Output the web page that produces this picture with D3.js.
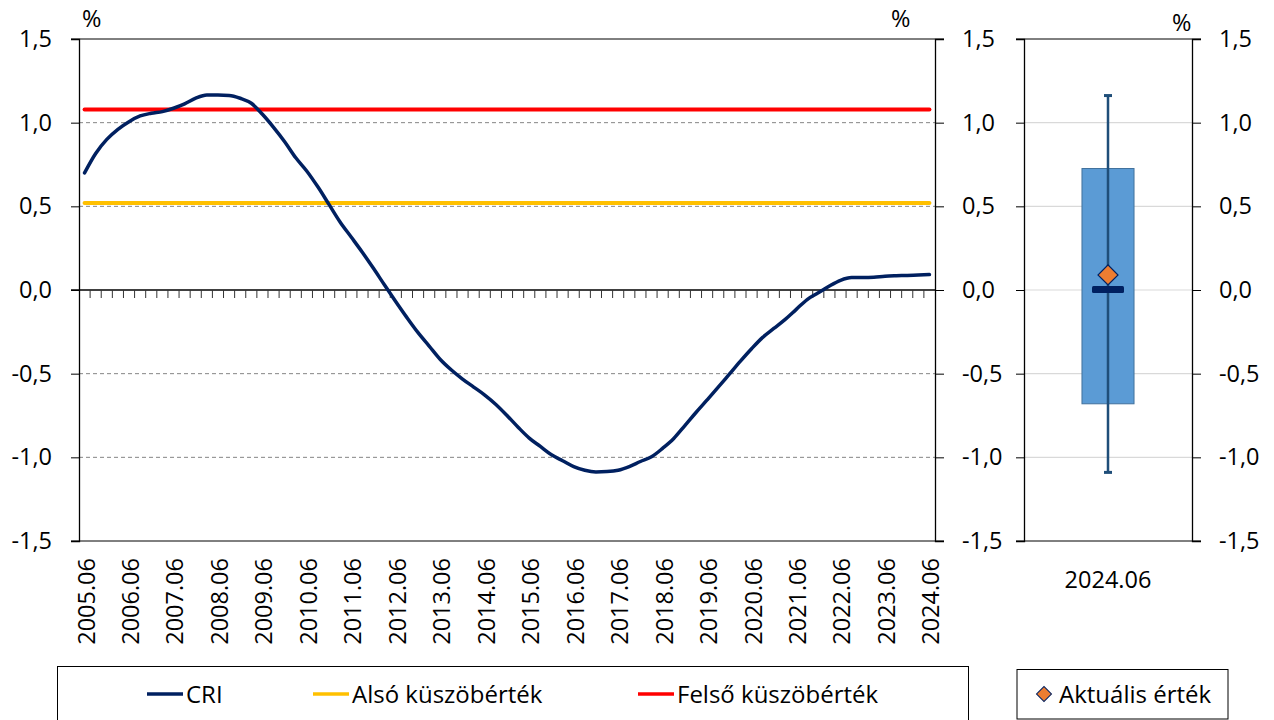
<!DOCTYPE html>
<html>
<head>
    <style>
        body { margin: 0; background: #fff; }
        svg text { font-family: "Open Sans", sans-serif; fill: #000; }
    </style>
</head>
<body>
    <svg width="1274" height="720"></svg>

    <script src="https://d3js.org/d3.v7.min.js"></script>
    <script>
        // quarterly observations, 2005.06 .. 2024.06
        const years = d3.range(2005, 2025);
        const months = ["03", "06", "09", "12"];
        const quarters = years.flatMap(y => months.map(m => `${y}.${m}`))
            .filter(q => q >= "2005.06" && q <= "2024.06");
        const tickLabels = years.map(y => `${y}.06`);

        const cri = [
            0.70, 0.816, 0.90, 0.96, 1.006, 1.04, 1.056, 1.066, 1.086, 1.112,
            1.146, 1.165, 1.165, 1.163, 1.146, 1.116, 1.05, 0.972, 0.886, 0.79,
            0.71, 0.615, 0.51, 0.405, 0.315, 0.224, 0.128, 0.028, -0.07, -0.165,
            -0.255, -0.335, -0.415, -0.478, -0.532, -0.58, -0.628, -0.684, -0.75, -0.82,
            -0.885, -0.935, -0.985, -1.02, -1.055, -1.077, -1.087, -1.085, -1.077, -1.055,
            -1.025, -0.997, -0.946, -0.887, -0.81, -0.732, -0.657, -0.581, -0.503, -0.425,
            -0.351, -0.283, -0.23, -0.177, -0.117, -0.057, -0.017, 0.024, 0.058, 0.074,
            0.074, 0.076, 0.082, 0.085, 0.087, 0.09, 0.092
        ];
        const lowerThreshold = 0.52;   // Alsó küszöbérték
        const upperThreshold = 1.078;  // Felső küszöbérték

        // distribution panel
        const boxCategory = "2024.06";
        const boxStats = { min: -1.09, q1: -0.68, median: 0.0, q3: 0.726, max: 1.162 };
        const currentValue = 0.09;     // Aktuális érték

        const yTicks = [1.5, 1.0, 0.5, 0.0, -0.5, -1.0, -1.5];
        const fmt = v => d3.format(".1f")(v).replace(".", ",").replace("−", "-");
        const FS = 23.5;

        const svg = d3.select("svg");
        const plotTop = 39, plotBottom = 541;
        const y = d3.scaleLinear().domain([-1.5, 1.5]).range([plotBottom, plotTop]);

        // ---------- left panel ----------
        const L = { left: 79, right: 935 };
        const x = d3.scaleBand().domain(quarters).range([L.left, L.right]).padding(0);
        const cx = d => x(d) + x.bandwidth() / 2;

        svg.append("g").selectAll("line")
            .data(yTicks.filter(v => Math.abs(v) !== 1.5 && v !== 0))
            .join("line")
            .attr("x1", L.left).attr("x2", L.right)
            .attr("y1", d => y(d)).attr("y2", d => y(d))
            .attr("stroke", "#858585").attr("stroke-width", 1)
            .attr("stroke-dasharray", "4,3");

        // frame lines top/bottom
        [1.5, -1.5].forEach(v => {
            svg.append("line").attr("x1", 71).attr("x2", 944)
                .attr("y1", y(v)).attr("y2", y(v))
                .attr("stroke", "#000").attr("stroke-width", 1);
        });

        // left and right axes
        const axL = svg.append("g").attr("transform", `translate(${L.left},0)`)
            .call(d3.axisLeft(y).tickValues(yTicks).tickFormat(fmt).tickSize(8).tickPadding(19));
        const axR = svg.append("g").attr("transform", `translate(${L.right},0)`)
            .call(d3.axisRight(y).tickValues(yTicks).tickFormat(fmt).tickSize(9).tickPadding(18));
        [axL, axR].forEach(a => {
            a.select(".domain").attr("stroke", "#000").attr("stroke-width", 1.3);
            a.selectAll(".tick line").attr("stroke", "#000");
            a.selectAll("text").attr("font-size", FS).style("font-family", "Open Sans");
        });

        // zero line with quarter ticks
        svg.append("line").attr("x1", 71).attr("x2", L.right)
            .attr("y1", y(0)).attr("y2", y(0))
            .attr("stroke", "#000").attr("stroke-width", 1.3);
        const edges = quarters.map(q => x(q)).concat([L.right]);
        svg.append("g").selectAll("line")
            .data(edges.slice(1, -1))
            .join("line")
            .attr("x1", d => d).attr("x2", d => d)
            .attr("y1", y(0)).attr("y2", y(0) + 8)
            .attr("stroke", "#333").attr("stroke-width", 1);

        // x labels
        svg.append("g").selectAll("text")
            .data(tickLabels)
            .join("text")
            .attr("transform", d => `translate(${cx(d) + 1.5},558) rotate(-90)`)
            .attr("text-anchor", "end")
            .attr("dy", "0.36em")
            .attr("font-size", FS)
            .text(d => d);

        // threshold lines
        const thresholds = [
            { v: lowerThreshold, color: "#FFC000" },
            { v: upperThreshold, color: "#FF0000" }
        ];
        svg.append("g").selectAll("line")
            .data(thresholds)
            .join("line")
            .attr("x1", cx(quarters[0])).attr("x2", cx(quarters[quarters.length - 1]))
            .attr("y1", d => y(d.v)).attr("y2", d => y(d.v))
            .attr("stroke", d => d.color).attr("stroke-width", 4).attr("stroke-linecap", "round");

        // CRI line
        const line = d3.line()
            .x((d, i) => cx(quarters[i]))
            .y(d => y(d))
            .curve(d3.curveMonotoneX);
        svg.append("path")
            .datum(cri)
            .attr("d", line)
            .attr("fill", "none")
            .attr("stroke", "#002060")
            .attr("stroke-width", 3.5)
            .attr("stroke-linecap", "round");

        svg.append("text").attr("x", 82).attr("y", 27).attr("font-size", FS).text("%");
        svg.append("text").attr("x", 891).attr("y", 27).attr("font-size", FS).text("%");

        // ---------- right panel ----------
        const R = { left: 1024, right: 1192 };
        const xb = d3.scaleBand().domain([boxCategory]).range([R.left, R.right]).padding(0.527);
        const bx = xb(boxCategory), bw = xb.bandwidth(), bmid = bx + bw / 2;

        svg.append("g").selectAll("line")
            .data(yTicks.filter(v => Math.abs(v) !== 1.5))
            .join("line")
            .attr("x1", R.left).attr("x2", R.right)
            .attr("y1", d => y(d)).attr("y2", d => y(d))
            .attr("stroke", "#d9d9d9").attr("stroke-width", 1.2);
        [1.5, -1.5].forEach(v => {
            svg.append("line").attr("x1", 1016).attr("x2", 1201)
                .attr("y1", y(v)).attr("y2", y(v))
                .attr("stroke", "#000").attr("stroke-width", 1);
        });

        const axBL = svg.append("g").attr("transform", `translate(${R.left},0)`)
            .call(d3.axisLeft(y).tickValues(yTicks).tickFormat("").tickSize(8));
        const axBR = svg.append("g").attr("transform", `translate(${R.right},0)`)
            .call(d3.axisRight(y).tickValues(yTicks).tickFormat(fmt).tickSize(9).tickPadding(18));
        [axBL, axBR].forEach(a => {
            a.select(".domain").attr("stroke", "#000").attr("stroke-width", 1.3);
            a.selectAll(".tick line").attr("stroke", "#000");
            a.selectAll("text").attr("font-size", FS).style("font-family", "Open Sans");
        });

        // box
        svg.append("rect")
            .attr("x", bx).attr("width", bw)
            .attr("y", y(boxStats.q3)).attr("height", y(boxStats.q1) - y(boxStats.q3))
            .attr("fill", "#5B9BD5").attr("stroke", "#41719C").attr("stroke-width", 1);
        // whisker
        svg.append("line")
            .attr("x1", bmid).attr("x2", bmid)
            .attr("y1", y(boxStats.max)).attr("y2", y(boxStats.min))
            .attr("stroke", "#1F4E79").attr("stroke-width", 2.5);
        [boxStats.max, boxStats.min].forEach(v => {
            svg.append("line")
                .attr("x1", bmid - 4).attr("x2", bmid + 4)
                .attr("y1", y(v)).attr("y2", y(v))
                .attr("stroke", "#1F4E79").attr("stroke-width", 3);
        });
        // median
        svg.append("rect")
            .attr("x", bmid - 16).attr("width", 32)
            .attr("y", y(boxStats.median) - 4).attr("height", 7)
            .attr("rx", 1.5)
            .attr("fill", "#002060");
        // current value
        svg.append("path")
            .attr("d", d3.symbol(d3.symbolSquare, 200)())
            .attr("transform", `translate(${bmid},${y(currentValue)}) rotate(45)`)
            .attr("fill", "#ED7D31").attr("stroke", "#002060").attr("stroke-width", 1.2);

        svg.append("text").attr("x", bmid).attr("y", 588)
            .attr("text-anchor", "middle").attr("font-size", FS).text(boxCategory);
        svg.append("text").attr("x", 1172).attr("y", 31).attr("font-size", FS).text("%");

        // ---------- legends ----------
        svg.append("rect").attr("x", 57.5).attr("y", 666.5).attr("width", 911).attr("height", 60)
            .attr("fill", "none").attr("stroke", "#000").attr("stroke-width", 1);
        const legendItems = [
            { name: "CRI", color: "#002060", x: 147 },
            { name: "Alsó küszöbérték", color: "#FFC000", x: 313 },
            { name: "Felső küszöbérték", color: "#FF0000", x: 638 }
        ];
        const lg = svg.append("g").selectAll("g").data(legendItems).join("g")
            .attr("transform", d => `translate(${d.x},694)`);
        lg.append("line").attr("x1", 0).attr("x2", 36).attr("y1", 0).attr("y2", 0)
            .attr("stroke", d => d.color).attr("stroke-width", 3.5);
        lg.append("text").attr("x", 39).attr("dy", "0.36em").attr("font-size", 24).text(d => d.name);

        svg.append("rect").attr("x", 1017).attr("y", 669.5).attr("width", 211).attr("height", 49.5)
            .attr("fill", "none").attr("stroke", "#000").attr("stroke-width", 1);
        svg.append("path")
            .attr("d", d3.symbol(d3.symbolSquare, 112)())
            .attr("transform", "translate(1044,694) rotate(45)")
            .attr("fill", "#ED7D31").attr("stroke", "#002060").attr("stroke-width", 1);
        svg.append("text").attr("x", 1059).attr("y", 694).attr("dy", "0.36em")
            .attr("font-size", 24).text("Aktuális érték");
    </script>
</body>
</html>
